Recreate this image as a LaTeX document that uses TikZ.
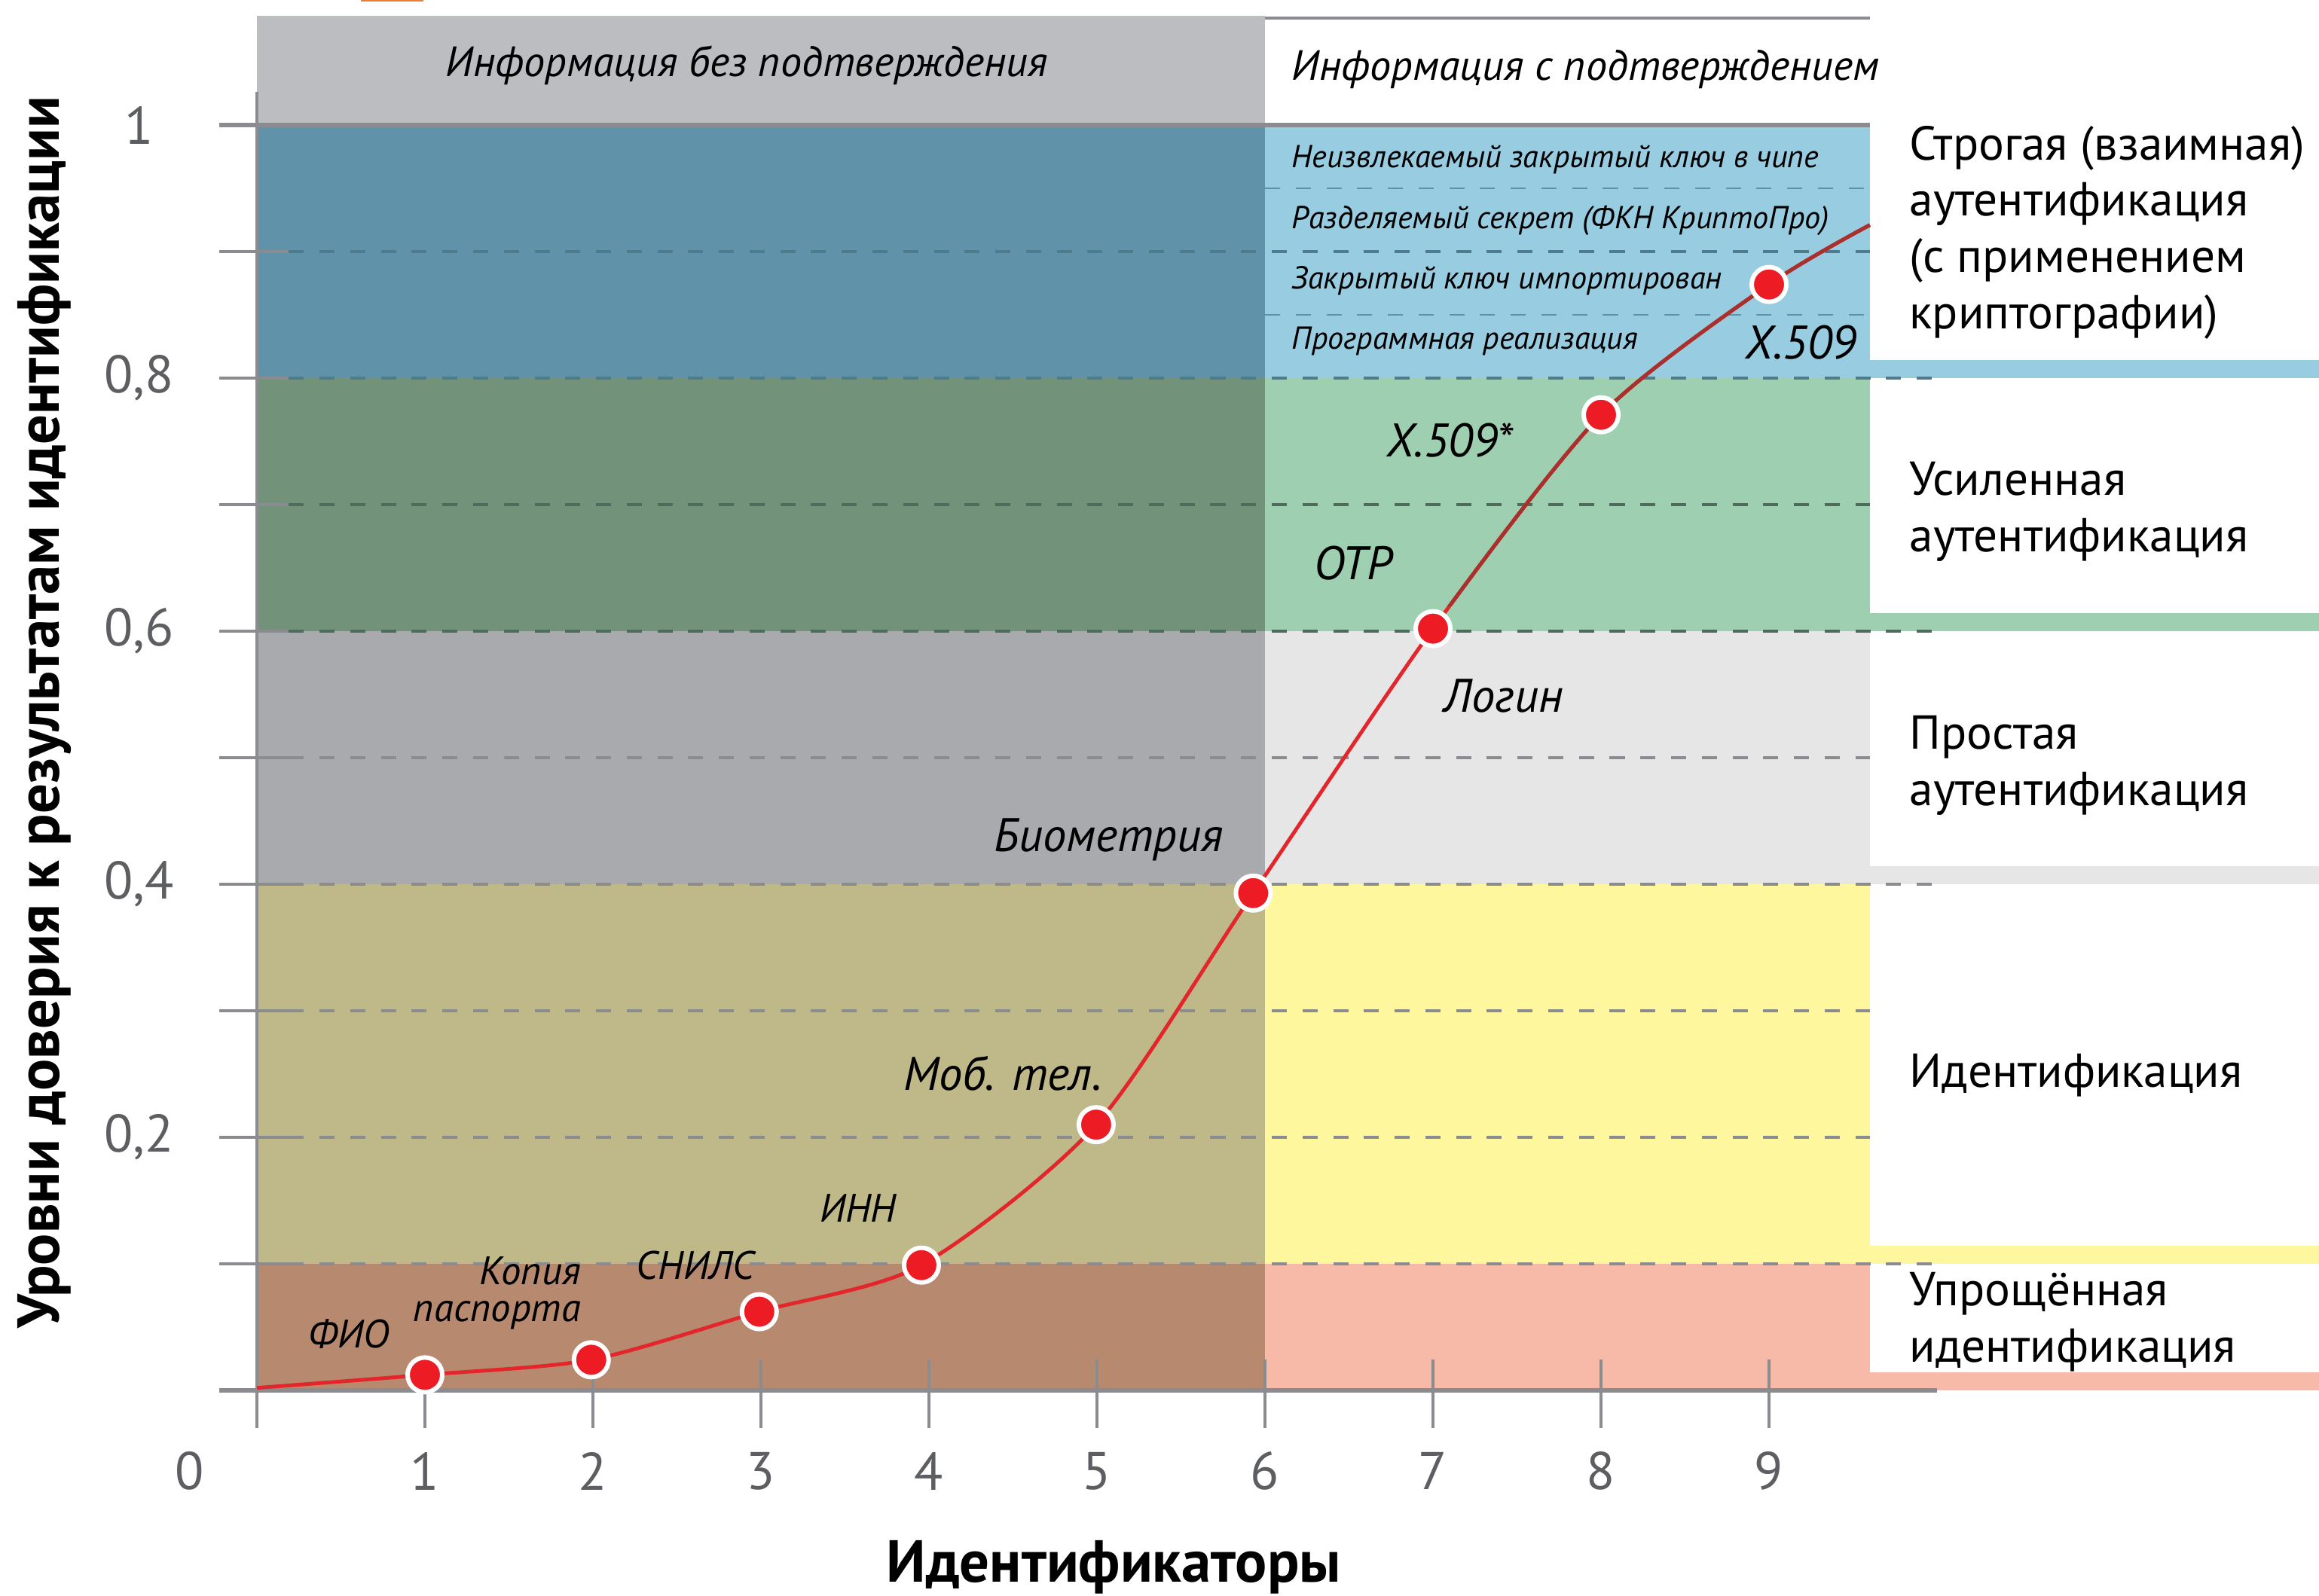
\documentclass[tikz,border=0pt]{standalone}
\usepackage{fontspec}
\setmainfont{PT Sans}
\usepackage{tikz}
\usetikzlibrary{calc}

\definecolor{strongL}{HTML}{6093AA}
\definecolor{strongR}{HTML}{98CDE1}
\definecolor{enhL}{HTML}{72937A}
\definecolor{enhR}{HTML}{9ECFB1}
\definecolor{simpL}{HTML}{A9AAAE}
\definecolor{simpR}{HTML}{E6E6E7}
\definecolor{identL}{HTML}{BFB98A}
\definecolor{identR}{HTML}{FFF79E}
\definecolor{basicL}{HTML}{B78A70}
\definecolor{basicR}{HTML}{F7BAA8}
\definecolor{hdrGray}{HTML}{BCBDC1}
\definecolor{axisGray}{HTML}{8B8C90}
\definecolor{gridGreen}{HTML}{4E6C5C}
\definecolor{gridBlue}{HTML}{4D7C8E}
\definecolor{gridSub}{HTML}{5E93A6}
\definecolor{numGray}{HTML}{5D5E61}
\definecolor{curveRed}{HTML}{E3262B}
\definecolor{curveDark}{HTML}{A8302D}
\definecolor{dotRed}{HTML}{ED1C24}
\definecolor{sliver}{HTML}{F07C30}

\tikzstyle{axisline} = [draw=axisGray, line width=1.3pt]
\tikzstyle{gridline} = [line width=0.9pt, dash pattern=on 5.7pt off 5.9pt]
\tikzstyle{ptdot} = [circle, fill=dotRed, draw=white, line width=1.7pt, minimum size=0.46cm, inner sep=0pt]
\tikzstyle{trustcurve} = [draw=curveRed, line width=1.4pt]
\tikzstyle{ptlabel} = [font=\fontsize{17.8}{20}\selectfont\itshape]
\tikzstyle{smlabel} = [font=\fontsize{15}{14}\selectfont\itshape]
\tikzstyle{sublabel} = [anchor=west, font=\fontsize{12}{14}\selectfont\itshape]
\tikzstyle{headlabel} = [font=\fontsize{16}{19}\selectfont\itshape]
\tikzstyle{lvllabel} = [anchor=west, align=left, font=\fontsize{18}{21.3}\selectfont]
\tikzstyle{ticknum} = [text=numGray, font=\fontsize{20}{24}\selectfont]
\tikzstyle{axtitle} = [font=\fontsize{22.4}{26}\selectfont\bfseries]

\newcommand{\trustpath}{plot[smooth, tension=0.45] coordinates {(c0) (c1) (c2) (c3) (c4) (c5) (c6) (c7) (c8) (c9) (c10)}}

\begin{document}
\begin{tikzpicture}[x=2.23cm, y=16.8cm, inner sep=0pt]
  \useasboundingbox (-3.41cm,-2.72cm) rectangle (27.37cm,18.46cm);

  \foreach \lo/\hi/\cl/\cr in {0/0.1/basicL/basicR, 0.1/0.4/identL/identR, 0.4/0.6/simpL/simpR, 0.6/0.8/enhL/enhR, 0.8/1/strongL/strongR} {
    \fill[\cl] (0,\lo) rectangle (6,\hi);
    \fill[\cr] (6,\lo) rectangle (9.6,\hi);
    \fill[\cr] (9.6,\lo) rectangle (12.3,\lo+0.0143);
  }
  \fill[hdrGray] (0,1) rectangle (6,1.0863);
  \draw[axisGray, line width=1.1pt] (6,1.0845) -- (9.6,1.0845);
  \fill[sliver] (0.62,1.0975) rectangle (0.99,1.0995);

  \foreach \y/\c/\r in {0.1/axisGray/10, 0.2/axisGray/9.6, 0.3/axisGray/9.6, 0.4/axisGray/10, 0.5/axisGray/9.6, 0.6/gridGreen/10, 0.7/gridGreen/9.6, 0.8/gridBlue/10, 0.9/gridBlue/9.6}
    \draw[gridline, draw=\c] (0.19,\y) -- (\r,\y);
  \foreach \y in {0.85,0.95}
    \draw[gridline, draw=gridSub, line width=0.7pt] (6,\y) -- (9.6,\y);

  \foreach \y in {0.1,0.2,0.3,0.4,0.5,0.6,0.7,0.8,0.9}
    \draw[axisline] (-0.224,\y) -- (0.19,\y);
  \draw[axisline, line width=1.5pt] (-0.224,1) -- (9.6,1);
  \draw[axisline, line width=1.5pt] (-0.224,0) -- (10,0);
  \draw[axisline] (0,1.026) -- (0,-0.03);
  \foreach \x in {1,...,9} {
    \draw[axisline, line width=1.1pt] (\x,0.0244) -- (\x,-0.03);
    \node[ticknum] (xt\x) at (\x,-0.0637) {\x};
  }
  \node[ticknum] (xt0) at (-0.4,-0.0637) {0};
  \foreach \y/\t [count=\i] in {1/1, 0.8/{0,8}, 0.6/{0,6}, 0.4/{0,4}, 0.2/{0,2}}
    \node[ticknum] (yt\i) at (-0.70,\y) {\t};

  \coordinate (c0) at (0,0.002);
  \coordinate (c1) at (1,0.0123);
  \coordinate (c2) at (1.99,0.0242);
  \coordinate (c3) at (2.99,0.0622);
  \coordinate (c4) at (3.955,0.099);
  \coordinate (c5) at (4.995,0.21);
  \coordinate (c6) at (5.93,0.393);
  \coordinate (c7) at (7,0.602);
  \coordinate (c8) at (8,0.771);
  \coordinate (c9) at (9,0.874);
  \coordinate (c10) at (9.6,0.921);
  \draw[trustcurve] \trustpath;
  \begin{scope}
    \clip (0,0.62) rectangle (10,1);
    \draw[trustcurve, draw=curveDark] \trustpath;
  \end{scope}
  \foreach \i in {1,...,9}
    \node[ptdot] (p\i) at (c\i) {};

  \node[headlabel] (hnoconf) at (2.915,1.047) {Информация без подтверждения};
  \node[headlabel, anchor=west] (hconf) at (6.157,1.044) {Информация с подтверждением};
  \node[sublabel] (s1) at (6.157,0.9726) {Неизвлекаемый закрытый ключ в чипе};
  \node[sublabel] (s2) at (6.157,0.9244) {Разделяемый секрет (ФКН КриптоПро)};
  \node[sublabel] (s3) at (6.157,0.8768) {Закрытый ключ импортирован};
  \node[sublabel] (s4) at (6.157,0.829) {Программная реализация};

  \node[smlabel] (lfio) at (0.547,0.0446) {ФИО};
  \node[smlabel, align=right, anchor=east] (lcopy) at (1.93,0.077) {Копия\\паспорта};
  \node[smlabel] (lsnils) at (2.61,0.0988) {СНИЛС};
  \node[smlabel] (linn) at (3.578,0.144) {ИНН};
  \node[ptlabel] (lmob) at (4.44,0.2506) {Моб. тел.};
  \node[ptlabel] (lbio) at (5.07,0.435) {Биометрия};
  \node[ptlabel] (llogin) at (7.42,0.549) {Логин};
  \node[ptlabel] (lotp) at (6.525,0.6536) {OTP};
  \node[ptlabel] (lxs) at (7.1,0.7506) {X.509*};
  \node[ptlabel] (lx) at (9.19,0.828) {X.509};

  \node[lvllabel] (lvl5) at (9.834,0.915) {Строгая (взаимная)\\аутентификация\\(с применением\\криптографии)};
  \node[lvllabel] (lvl4) at (9.834,0.6945) {Усиленная\\аутентификация};
  \node[lvllabel] (lvl3) at (9.834,0.494) {Простая\\аутентификация};
  \node[lvllabel] (lvl2) at (9.834,0.249) {Идентификация};
  \node[lvllabel] (lvl1) at (9.834,0.054) {Упрощённая\\идентификация};

  \node[axtitle, rotate=90] (ytitle) at (-1.265,0.536) {Уровни доверия к результатам идентификации};
  \node[axtitle] (xtitle) at (5.1,-0.14) {Идентификаторы};
\end{tikzpicture}
\end{document}
